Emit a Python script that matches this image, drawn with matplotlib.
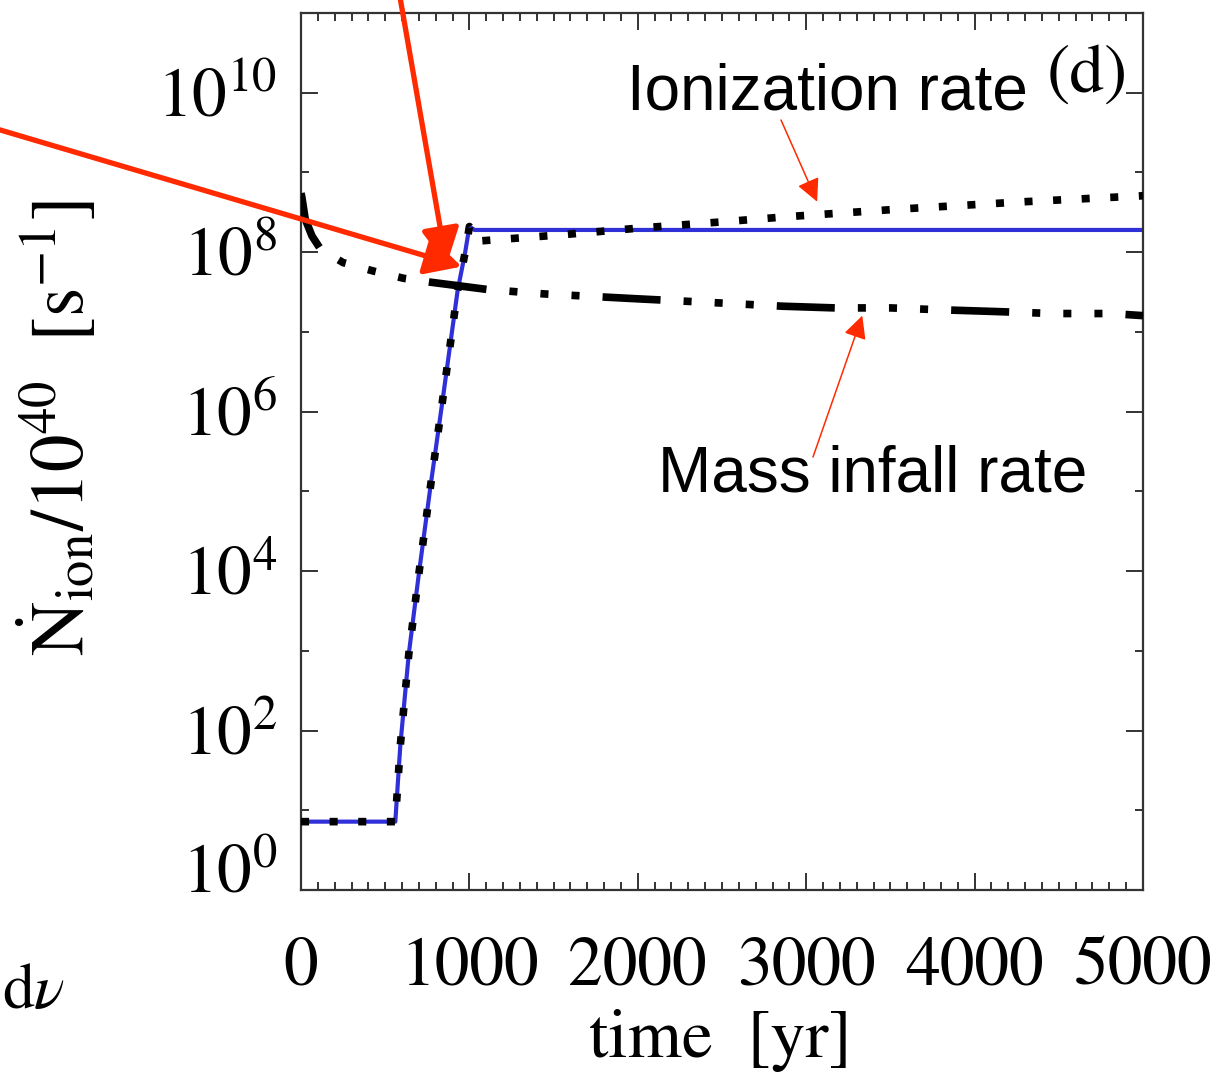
import numpy as np
import matplotlib
matplotlib.use("Agg")
import matplotlib.pyplot as plt
from matplotlib.ticker import FixedLocator, MultipleLocator, NullFormatter
from matplotlib.transforms import ScaledTranslation

# time [yr] against Ndot_ion / 1e40 [s^-1]
t_blue = [0, 560, 590, 640, 700, 770, 840, 930, 975, 1000, 1030, 5000]
n_blue = [7.2, 7.2, 66, 910, 9.3e3, 1.2e5, 1.35e6, 3.3e7, 1.0e8, 2.1e8, 1.9e8, 1.9e8]

t_ion = [0, 560, 590, 640, 700, 770, 840, 930, 975, 1000, 1055, 1560,
         2000, 2500, 2900, 3580, 4300, 5000]
n_ion = [7.2, 7.2, 66, 910, 9.3e3, 1.2e5, 1.35e6, 3.3e7, 1.0e8, 2.1e8, 1.38e8,
         1.66e8, 2.0e8, 2.4e8, 2.8e8, 3.5e8, 4.3e8, 5.1e8]

t_infall = [0, 5, 25, 65, 115, 250, 430, 610, 770, 1110, 1440, 2000, 2500,
            2860, 3170, 3500, 3780, 4130, 4470, 4810, 5000]
n_infall = [5.5e8, 4.9e8, 2.6e8, 1.6e8, 1.1e8, 7.4e7, 5.8e7, 4.7e7, 4.2e7,
            3.4e7, 3.0e7, 2.6e7, 2.3e7, 2.1e7, 2.0e7, 2.0e7, 1.9e7, 1.8e7,
            1.7e7, 1.7e7, 1.6e7]

y_major = [1e0, 1e2, 1e4, 1e6, 1e8, 1e10]
y_minor = [1e1, 1e3, 1e5, 1e7, 1e9]

# arrow tips (data) and tails (figure pixels)
tip_top, tail_top = (865, 7.0e7), (397, 1097)
tip_left, tail_left = (954, 6.6e7), (-20, 953)
tip_ion, tail_ion = (3065, 4.3e8), (781, 957)
tip_inf, tail_inf = (3333, 1.6e7), (813, 620)

RED, BLUE, INK, AX = "#ff2a00", "#3030d8", "black", "#333333"
W, H = 1224, 1077

plt.rcParams.update({"font.family": "STIXGeneral", "mathtext.fontset": "stix",
                     "lines.scale_dashes": False})
fig = plt.figure(figsize=(W / 100, H / 100), dpi=100)
ax = fig.add_axes([301 / W, 187 / H, 842 / W, 877 / H])

ax.plot(t_blue, n_blue, color=BLUE, lw=3.0, zorder=2)
ax.plot(t_ion, n_ion, color=INK, lw=5.5, dashes=(5.8, 14.8),
        dash_capstyle="butt", zorder=3)
ax.plot(t_infall, n_infall, color=INK, lw=5.5,
        dashes=(41.8, 16.6, 5.8, 16.6, 5.8, 16.6, 5.8, 16.6),
        dash_capstyle="butt", zorder=3)

ax.set_yscale("log")
ax.set_xlim(0, 5000)
ax.set_ylim(1, 1e11)
ax.xaxis.set_major_locator(MultipleLocator(1000))
ax.xaxis.set_minor_locator(MultipleLocator(100))
ax.yaxis.set_major_locator(FixedLocator(y_major))
ax.yaxis.set_minor_locator(FixedLocator(y_minor))
ax.yaxis.set_minor_formatter(NullFormatter())

for s in ax.spines.values():
    s.set_color(AX); s.set_linewidth(1.6)
ax.tick_params(which="both", direction="in", top=True, right=True,
               colors=AX, width=1.4, labelcolor=INK)
ax.tick_params(which="major", length=12)
ax.tick_params(which="minor", length=6)
ax.tick_params(axis="x", which="major", labelsize=50, pad=34)
ax.tick_params(axis="y", which="major", labelsize=50, pad=17)

# lowest decade label sits a little higher
lab0 = ax.yaxis.get_major_ticks()[0].label1
lab0.set_transform(lab0.get_transform() + ScaledTranslation(0, 0.21, fig.dpi_scale_trans))

fig.text(720 / W, 20 / H, "time  [yr]", ha="center", va="baseline", fontsize=50)
fig.text(59 / W, 649 / H, r"$\dot{\rm N}_{\rm ion}/10^{40}\ \ [{\rm s}^{-1}]$",
         rotation=90, ha="center", va="center", fontsize=54)
fig.text(2 / W, 69 / H, r"$\mathrm{d}\nu$", ha="left", va="baseline", fontsize=46)
fig.text(1128 / W, (H - 92) / H, "(d)", ha="right", va="baseline", fontsize=50)

sans = ["Liberation Sans", "DejaVu Sans"]
fig.text(627 / W, (H - 110) / H, "Ionization rate", family=sans, fontsize=46,
         va="baseline")
fig.text(658 / W, (H - 492) / H, "Mass infall rate", family=sans, fontsize=46,
         va="baseline")

thick = dict(arrowstyle="-|>,head_length=2.2,head_width=1.15", color=RED, lw=3.8,
             shrinkA=0, shrinkB=0, mutation_scale=10)
thin = dict(arrowstyle="-|>,head_length=1.4,head_width=0.7", color=RED, lw=1.1,
            shrinkA=0, shrinkB=0, mutation_scale=10)
for tip, tail, props in [(tip_top, tail_top, thick), (tip_left, tail_left, thick),
                         (tip_ion, tail_ion, thin), (tip_inf, tail_inf, thin)]:
    ax.annotate("", xy=tip, xycoords="data", xytext=tail,
                textcoords="figure pixels", arrowprops=props,
                annotation_clip=False, zorder=5)

fig.savefig("out.png", dpi=100)
plt.close(fig)
